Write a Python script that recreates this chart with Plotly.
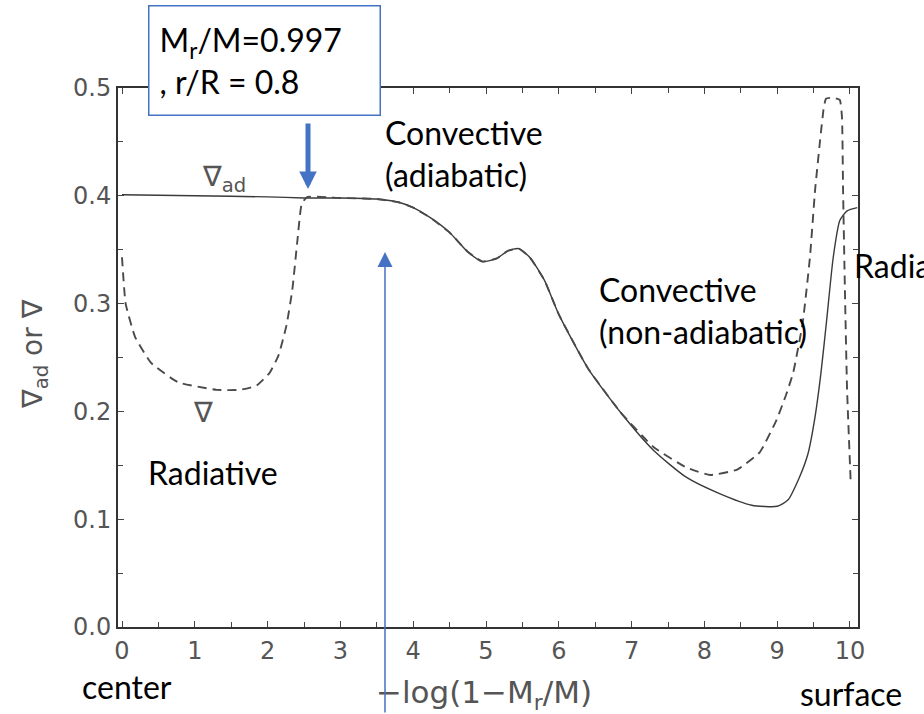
import plotly.graph_objects as go

# ---- data ----
x_ad = [0.0, 1.0, 2.0, 2.5, 3.0, 3.5, 3.8, 4.0, 4.25, 4.5, 4.75, 4.95, 5.15, 5.3, 5.45,
        5.6, 5.8, 6.0, 6.4, 6.85, 7.3, 7.75, 8.2, 8.65, 9.0, 9.15, 9.3, 9.42, 9.52, 9.6,
        9.68, 9.77, 9.86, 9.96, 10.1]
y_ad = [0.401, 0.400, 0.399, 0.398, 0.398, 0.397, 0.394, 0.389, 0.379, 0.366, 0.348, 0.339,
        0.342, 0.349, 0.351, 0.343, 0.322, 0.290, 0.240, 0.199, 0.164, 0.139, 0.124, 0.113,
        0.112, 0.118, 0.138, 0.160, 0.195, 0.235, 0.285, 0.343, 0.377, 0.386, 0.389]

x_nab = [0.0, 0.05, 0.18, 0.4, 0.77, 1.3, 1.62, 1.85, 2.03, 2.15, 2.26, 2.34, 2.41, 2.47, 2.55,
         3.0, 3.5, 3.8, 4.0, 4.25, 4.5, 4.75, 4.95, 5.15, 5.3, 5.45, 5.6, 5.8, 6.0, 6.4, 6.85,
         7.3, 7.75, 8.08, 8.45, 8.76, 8.99, 9.12, 9.22, 9.35, 9.45, 9.52, 9.59, 9.64, 9.67,
         9.76, 9.86, 9.89, 9.905, 9.93, 9.96, 10.01]
y_nab = [0.343, 0.300, 0.269, 0.245, 0.227, 0.220, 0.220, 0.224, 0.236, 0.252, 0.280, 0.313,
         0.359, 0.393, 0.399,
         0.398, 0.397, 0.394, 0.389, 0.379, 0.366, 0.348, 0.339, 0.342, 0.349, 0.351, 0.343, 0.322,
         0.290, 0.240, 0.199,
         0.167, 0.148, 0.141, 0.146, 0.162, 0.192, 0.215, 0.236, 0.282, 0.343, 0.405, 0.452, 0.482,
         0.490, 0.491, 0.489, 0.473, 0.405, 0.313, 0.220, 0.134]

x_ticks = [0, 1, 2, 3, 4, 5, 6, 7, 8, 9, 10]
y_ticks = [0.0, 0.1, 0.2, 0.3, 0.4, 0.5]
y_ticktext = ["0.0", "0.1", "0.2", "0.3", "0.4", "0.5"]

# ---- layout geometry (pixels) ----
W, H = 924, 714
L, R, T, B = 118, 858, 88, 627


def px(xp):
    return (xp - L) / (R - L)


def py(yp):
    return (B - yp) / (B - T)


fig = go.Figure()
fig.add_trace(go.Scatter(x=x_ad, y=y_ad, mode="lines",
                         line=dict(color="#3a3a3a", width=1.4, shape="spline", smoothing=0.6),
                         showlegend=False, hoverinfo="skip"))
fig.add_trace(go.Scatter(x=x_nab, y=y_nab, mode="lines",
                         line=dict(color="#4a4a4a", width=1.9, dash="9px,6px", shape="spline", smoothing=0.4),
                         showlegend=False, hoverinfo="skip"))

grey = "#555555"
tickfont = dict(family="DejaVu Sans", size=24, color=grey)
fig.update_xaxes(range=[-0.055, 10.11], tickvals=x_ticks, ticks="inside", ticklen=6,
                 tickcolor="#444", showline=True, linecolor="#333", linewidth=2, mirror="allticks",
                 showgrid=False, zeroline=False, tickfont=tickfont, ticklabelstandoff=1,
                 minor=dict(dtick=0.5, tick0=0, ticks="inside", ticklen=5, tickcolor="#444"))
fig.update_yaxes(range=[0, 0.5], tickvals=y_ticks, ticktext=y_ticktext, ticks="inside", ticklen=6,
                 tickcolor="#444", showline=True, linecolor="#333", linewidth=2, mirror="allticks",
                 showgrid=False, zeroline=False, tickfont=tickfont,
                 minor=dict(dtick=0.05, tick0=0, ticks="inside", ticklen=5, tickcolor="#444"))

big = dict(family="Lato", size=32, color="black")
ann = []


def text(s, xp, yp, font, xanchor="left", angle=0, align="left"):
    ann.append(dict(text=s, x=px(xp), y=py(yp), xref="paper", yref="paper",
                    xanchor=xanchor, yanchor="middle", showarrow=False, font=font,
                    textangle=angle, align=align))


# original figure labels
text("\u2207<sub>ad</sub>", 224, 178, dict(family="DejaVu Sans", size=28, color=grey), xanchor="center")
text("\u2207", 203, 412, dict(family="DejaVu Sans", size=28, color=grey), xanchor="center")
text("\u2207<sub>ad</sub> or \u2207", 34, 354, dict(family="DejaVu Sans", size=28, color=grey),
     xanchor="center", angle=-90)
text("\u2212log(1\u2212M<sub>r</sub>/M)", 484, 694, dict(family="DejaVu Sans", size=31, color=grey),
     xanchor="center")

# overlay labels
text("Convective<br>(adiabatic)", 383, 153, big)
text("Convective<br>(non-adiabatic)", 597, 310, big)
text("Radiative", 146, 472, big)
text("Radiative", 852, 265, big)
text("center", 80, 686, big)
text("surface", 798, 693, big)

# box
ann.append(dict(text="M<sub>r</sub>/M=0.997<br>, r/R = 0.8", x=px(148), y=py(5), xref="paper", yref="paper",
                xanchor="left", yanchor="top", showarrow=False, font=big, align="left",
                bgcolor="white", bordercolor="#4472C4", borderwidth=1.5, borderpad=10,
                width=210, height=88))

# arrows
ann.append(dict(text="", x=px(308), y=py(189), xref="paper", yref="paper", showarrow=True,
                ax=0, ay=-67, axref="pixel", ayref="pixel", arrowhead=2, arrowsize=0.7,
                arrowwidth=5, arrowcolor="#4472C4", standoff=0))
ann.append(dict(text="", x=px(385), y=py(252), xref="paper", yref="paper", showarrow=True,
                ax=0, ay=462, axref="pixel", ayref="pixel", arrowhead=2, arrowsize=2,
                arrowwidth=1.5, arrowcolor="#4472C4", standoff=0))

fig.update_layout(width=W, height=H, margin=dict(l=L, r=W - R, t=T, b=H - B),
                  paper_bgcolor="white", plot_bgcolor="white", annotations=ann)

fig.write_html("out.html")
